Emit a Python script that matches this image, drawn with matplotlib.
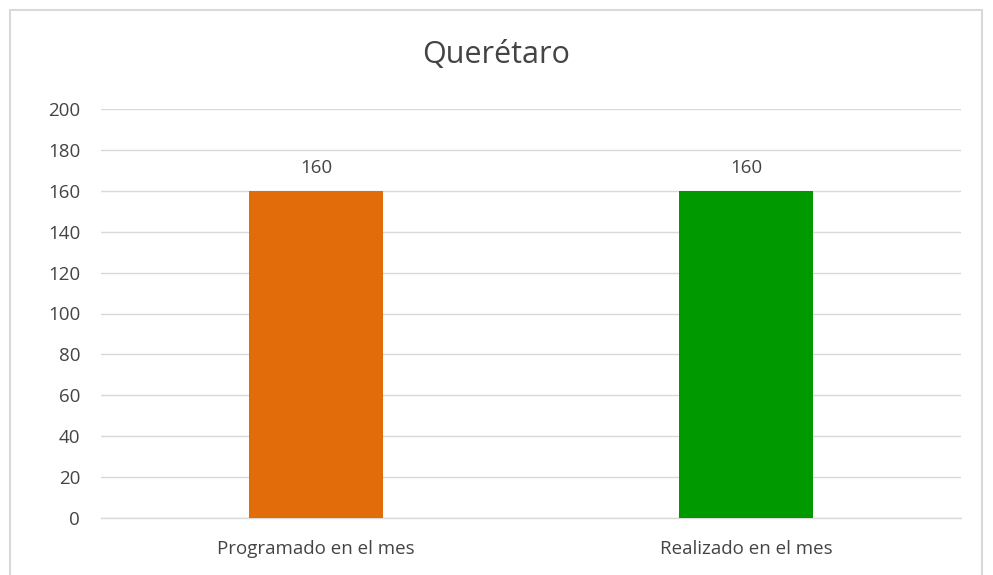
import matplotlib
matplotlib.use("Agg")
import matplotlib.pyplot as plt
from matplotlib.patches import Rectangle

categories = ["Programado en el mes", "Realizado en el mes"]
values = [160, 160]
colors = ["#E36C0A", "#009900"]
title = "Querétaro"
yticks = [0, 20, 40, 60, 80, 100, 120, 140, 160, 180, 200]

plt.rcParams['font.family'] = ['Open Sans', 'DejaVu Sans']
txt = "#444444"
grid = "#D9D9D9"

fig = plt.figure(figsize=(9.93, 5.75), dpi=100)
fig.patch.set_facecolor("white")
fig.add_artist(Rectangle((9.5/993, -0.05), (982-9.5)/993, 1.05 - 10/575,
                         transform=fig.transFigure, fill=False,
                         edgecolor=grid, linewidth=1.5))

ax = fig.add_axes([101/993, 57/575, 860/993, (518-109)/575])
x = list(range(len(categories)))
bars = ax.bar(x, values, width=0.31, color=colors, zorder=3)
ax.set_xlim(-0.5, len(categories) - 0.5)
ax.set_ylim(0, 200)
ax.set_yticks(yticks)
ax.set_xticks(x)
ax.set_xticklabels(categories)
ax.tick_params(axis='both', length=0, labelsize=13.5, colors=txt)
ax.tick_params(axis='x', pad=16)
ax.tick_params(axis='y', pad=15)
ax.grid(axis='y', color=grid, linewidth=1, zorder=0)
for s in ["top", "right", "left"]:
    ax.spines[s].set_visible(False)
ax.spines["bottom"].set_color(grid)
ax.spines["bottom"].set_linewidth(1)
for b, v in zip(bars, values):
    ax.annotate(str(v), (b.get_x() + b.get_width() / 2, v), xytext=(0, 10),
                textcoords="offset points", ha="center", va="bottom",
                fontsize=13.5, color=txt)
fig.text(0.5, 1 - 55/575, title, ha="center", va="center", fontsize=22, color=txt)
fig.savefig("out.png", dpi=100, facecolor="white")
